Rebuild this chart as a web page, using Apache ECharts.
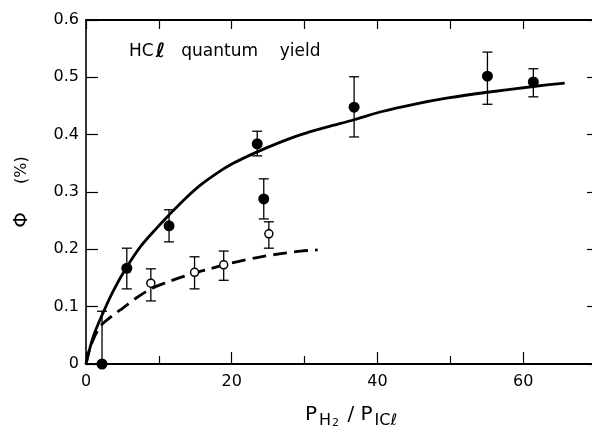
<!DOCTYPE html>
<html>
<head>
<meta charset="utf-8">
<script src="https://cdn.jsdelivr.net/npm/echarts@6/dist/echarts.min.js"></script>
<style>html,body{margin:0;padding:0;background:#fff}#c{width:592px;height:427px}</style>
</head>
<body>
<div id="c"></div>
<script>
// ---- data ----
var xTickLabels = ['0', '20', '40', '60'];
var yTickLabels = ['0', '0.1', '0.2', '0.3', '0.4', '0.5', '0.6'];

var filledX    = [2.2, 5.6, 11.4, 23.5, 24.4, 36.8, 55.1, 61.4];
var filledY    = [0.0, 0.167, 0.241, 0.384, 0.288, 0.448, 0.502, 0.492];
var filledLow  = [0.0, 0.131, 0.213, 0.363, 0.253, 0.396, 0.453, 0.466];
var filledHigh = [0.092, 0.202, 0.269, 0.406, 0.323, 0.501, 0.544, 0.515];

var openX    = [8.9, 14.9, 18.9, 25.1];
var openY    = [0.141, 0.160, 0.173, 0.227];
var openLow  = [0.110, 0.131, 0.146, 0.202];
var openHigh = [0.166, 0.187, 0.197, 0.248];

var solidCurveX = [0, 1.0, 2.4, 3.8, 5.6, 7.5, 9.7, 11.4, 13.5, 15.7, 18.0, 20.2, 23.5, 26.7, 29.5, 33.0, 36.8, 40.5, 45.0, 49.7, 55.1, 61.4, 65.7];
var solidCurveY = [0, 0.048, 0.091, 0.129, 0.169, 0.205, 0.237, 0.260, 0.287, 0.312, 0.333, 0.350, 0.370, 0.387, 0.400, 0.413, 0.426, 0.440, 0.453, 0.464, 0.474, 0.484, 0.490];

var dashCurveX = [0, 0.6, 1.9, 3.5, 5.1, 7.0, 8.9, 11.0, 13.0, 14.9, 17.0, 19.0, 21.0, 24.0, 27.0, 29.5, 31.8];
var dashCurveY = [0, 0.030, 0.065, 0.083, 0.098, 0.116, 0.131, 0.142, 0.151, 0.159, 0.166, 0.173, 0.179, 0.187, 0.193, 0.197, 0.199];

function zip(a, b) { return a.map(function (v, i) { return [v, b[i]]; }); }
function errData(x, lo, hi) { return x.map(function (v, i) { return [v, lo[i], hi[i]]; }); }

function errorBar(params, api) {
  var x = api.value(0);
  var lo = api.coord([x, api.value(1)]);
  var hi = api.coord([x, api.value(2)]);
  var hw = 5;
  var st = { stroke: '#000', lineWidth: 1.3 };
  return {
    type: 'group',
    children: [
      { type: 'line', shape: { x1: lo[0], y1: lo[1], x2: hi[0], y2: hi[1] }, style: st },
      { type: 'line', shape: { x1: hi[0] - hw, y1: hi[1], x2: hi[0] + hw, y2: hi[1] }, style: st },
      { type: 'line', shape: { x1: lo[0] - hw, y1: lo[1], x2: lo[0] + hw, y2: lo[1] }, style: st }
    ]
  };
}

var FONT = 'DejaVu Sans';
var chart = echarts.init(document.getElementById('c'), null, { renderer: 'canvas' });
chart.setOption({
  animation: false,
  backgroundColor: '#fff',
  grid: { left: 86, top: 20, right: -4, bottom: 63, outerBoundsMode: 'none', containLabel: false },
  title: {
    text: '{a|HC}{b|ℓ}{a|   quantum    yield}',
    left: 124, top: 37,
    textStyle: {
      fontWeight: 'normal',
      rich: {
        a: { fontFamily: FONT, fontSize: 17, fontWeight: 'normal', color: '#000' },
        b: { fontFamily: FONT, fontSize: 20, fontWeight: 'bold', color: '#000', padding: [0, 0, 0, 2] }
      }
    }
  },
  xAxis: [{
    type: 'value', min: 0, max: 70, interval: 20,
    axisLine: { show: true, onZero: false, lineStyle: { color: '#000', width: 2 } },
    axisTick: { show: true, inside: true, length: 12, lineStyle: { color: '#000', width: 1.2 } },
    minorTick: { show: true, splitNumber: 2, length: 8, lineStyle: { color: '#000', width: 1.2 } },
    splitLine: { show: false },
    axisLabel: {
      margin: 10, fontFamily: FONT, fontSize: 16, color: '#000',
      formatter: function (v) { var i = xTickLabels.indexOf(String(v)); return i >= 0 ? xTickLabels[i] : ''; }
    },
    name: '{m|P}{s|H}{ss|2}{m| / P}{s|ICℓ}',
    nameLocation: 'middle', nameGap: 36,
    nameTextStyle: {
      padding: [0, 0, 0, 20],
      rich: {
        m: { fontFamily: FONT, fontSize: 20, color: '#000' },
        s: { fontFamily: FONT, fontSize: 16, color: '#000', padding: [12, 0, 0, 2] },
        ss: { fontFamily: FONT, fontSize: 11, color: '#000', padding: [18, 2, 0, 1] }
      }
    }
  }, {
    type: 'value', position: 'top', min: 0, max: 70, interval: 10,
    axisLine: { show: true, onZero: false, lineStyle: { color: '#000', width: 2 } },
    axisTick: { show: true, inside: true, length: 9, lineStyle: { color: '#000', width: 1.2 } },
    axisLabel: { show: false }, splitLine: { show: false }
  }],
  yAxis: [{
    type: 'value', min: 0, max: 0.6, interval: 0.1,
    axisLine: { show: true, onZero: false, lineStyle: { color: '#000', width: 1.6 } },
    axisTick: { show: true, inside: true, length: 12, lineStyle: { color: '#000', width: 1.2 } },
    splitLine: { show: false },
    axisLabel: {
      margin: 7, fontFamily: FONT, fontSize: 16, color: '#000',
      formatter: function (v) { return yTickLabels[Math.round(v * 10)]; }
    },
    name: '{phi|Φ}{m|(%)}',
    nameLocation: 'middle', nameGap: 54, nameRotate: 90,
    nameTextStyle: {
      rich: {
        phi: { fontFamily: FONT, fontSize: 20, color: '#000', padding: [0, 28, 0, 0] },
        m: { fontFamily: FONT, fontSize: 16, color: '#000' }
      }
    }
  }, {
    type: 'value', position: 'right', min: 0, max: 0.6, interval: 0.1,
    axisLine: { show: true, onZero: false, lineStyle: { color: '#000', width: 2 } },
    axisTick: { show: true, inside: true, length: 9, lineStyle: { color: '#000', width: 1.2 } },
    axisLabel: { show: false }, splitLine: { show: false }
  }],
  series: [
    { type: 'custom', renderItem: errorBar, data: errData(filledX, filledLow, filledHigh), z: 2 },
    { type: 'custom', renderItem: errorBar, data: errData(openX, openLow, openHigh), z: 2 },
    {
      type: 'line', data: zip(solidCurveX, solidCurveY), smooth: 0.3, showSymbol: false,
      lineStyle: { color: '#000', width: 2.8 }, z: 3
    },
    {
      type: 'line', data: zip(dashCurveX, dashCurveY), smooth: 0.3, showSymbol: false,
      lineStyle: { color: '#000', width: 2.8, type: [14, 7] }, z: 3
    },
    {
      type: 'scatter', data: zip(filledX, filledY), symbol: 'circle', symbolSize: 11,
      itemStyle: { color: '#000', opacity: 1 }, z: 5
    },
    {
      type: 'scatter', data: zip(openX, openY), symbol: 'circle', symbolSize: 8,
      itemStyle: { color: '#fff', borderColor: '#000', borderWidth: 1.5, opacity: 1 }, z: 5
    }
  ]
});
</script>
</body>
</html>
